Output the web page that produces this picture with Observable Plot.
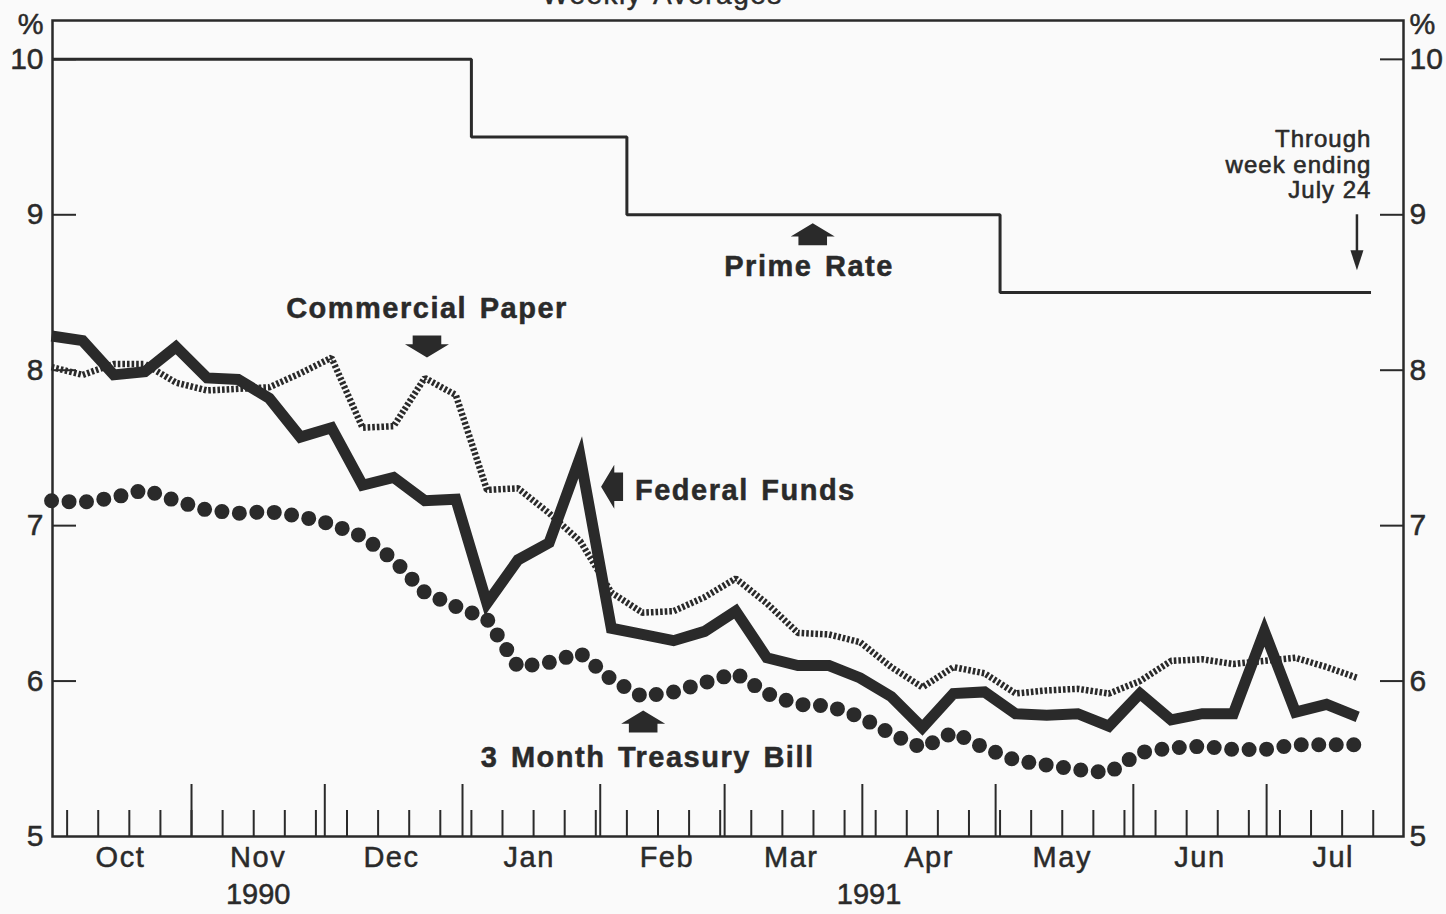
<!DOCTYPE html>
<html>
<head>
<meta charset="utf-8">
<script src="https://cdn.jsdelivr.net/npm/d3@7"></script>
<script src="https://cdn.jsdelivr.net/npm/@observablehq/plot@0.6"></script>
<style>
  html, body { margin: 0; padding: 0; background: #fafafa; }
  #chart { width: 1446px; height: 914px; overflow: hidden; }
</style>
</head>
<body>
<div id="chart"></div>
<script>
// ---- Data (weekly averages, weeks ending Wednesday, Oct 3 1990 – Jul 24 1991) ----
const fedFunds = [8.22, 8.19, 7.97, 7.99, 8.15, 7.95, 7.94, 7.82, 7.57, 7.63, 7.26, 7.31, 7.16, 7.17,
  6.50, 6.78, 6.89, 7.44, 6.34, 6.30, 6.26, 6.32, 6.45, 6.15, 6.10, 6.10, 6.02, 5.90, 5.70,
  5.92, 5.93, 5.79, 5.78, 5.79, 5.71, 5.92, 5.75, 5.79, 5.79, 6.32, 5.80, 5.85, 5.77];
const commercialPaper = [8.02, 7.97, 8.04, 8.04, 7.92, 7.87, 7.88, 7.89, 7.98, 8.08, 7.63, 7.64, 7.95, 7.84,
  7.23, 7.24, 7.08, 6.90, 6.57, 6.44, 6.45, 6.54, 6.66, 6.50, 6.31, 6.30, 6.25, 6.09, 5.96,
  6.09, 6.05, 5.92, 5.94, 5.95, 5.92, 6.00, 6.13, 6.14, 6.11, 6.13, 6.15, 6.09, 6.02];
const treasuryBill = [7.16, 7.15, 7.18, 7.23, 7.16, 7.10, 7.08, 7.09, 7.06, 7.01, 6.93, 6.78, 6.57, 6.48,
  6.40, 6.09, 6.12, 6.18, 6.01, 5.90, 5.93, 5.99, 6.05, 5.92, 5.85, 5.84, 5.77, 5.66, 5.57,
  5.67, 5.57, 5.49, 5.46, 5.43, 5.41, 5.54, 5.57, 5.58, 5.56, 5.56, 5.59, 5.59, 5.59];
const primeDates = ["1990-09-30T17:00Z", "1991-01-03T00:00Z", "1991-02-07T00:00Z", "1991-05-02T00:00Z", "1991-07-24T12:00Z"];
const primeRate = [10, 9.5, 9, 8.5, 8.5];

const monthNames = ["Oct", "Nov", "Dec", "Jan", "Feb", "Mar", "Apr", "May", "Jun", "Jul"];
const yearNames = ["1990", "1991"];
const yearDates = ["1990-11-16T00:00Z", "1991-04-02T12:00Z"];
const yTicks = [5, 6, 7, 8, 9, 10];
const yInnerTicks = [6, 7, 8, 9, 10];

// ---- Annotations (data-space anchors) ----
const centeredLabels = [
  {text: "Commercial Paper", date: "1990-12-24T00:00Z", value: 8.394},
  {text: "Prime Rate", date: "1991-03-20T00:00Z", value: 8.665},
  {text: "3 Month Treasury Bill", date: "1991-02-11T16:00Z", value: 5.505}
];
const leftLabels = [
  {text: "Federal Funds", date: "1991-02-08T20:00Z", value: 7.225}
];
const blockArrows = [
  {date: "1990-12-24T00:00Z", value: 8.153, dir: "down"},
  {date: "1991-03-20T20:00Z", value: 8.874, dir: "up"},
  {date: "1991-02-03T16:00Z", value: 7.25, dir: "left"},
  {date: "1991-02-10T16:00Z", value: 5.74, dir: "up"}
];
const throughNote = {text: "Through\nweek ending\nJuly 24", date: "1991-07-24T14:00Z", value: 9.55};
const throughArrow = {date: "1991-07-21T08:00Z", from: 9.0, to: 8.707};
const titleText = {text: "Weekly Averages", date: "1991-02-15T00:00Z"};

// ---- Layout ----
const ink = "#2a2a2a";
const W = 1446, H = 914, mL = 52, mR = 43, mT = 20, mB = 78;
const plotW = W - mL - mR, plotH = H - mT - mB;
const font = "'Liberation Sans', Arial, Helvetica, sans-serif";

const weekEnding = d3.utcWednesday.range(new Date(Date.UTC(1990, 9, 3)), new Date(Date.UTC(1991, 6, 25)));
const rows = weekEnding.map((d, i) => ({
  date: new Date(+d - 2.5 * 864e5), ff: fedFunds[i], cp: commercialPaper[i], tb: treasuryBill[i]
}));
const primeRows = primeDates.map((d, i) => ({date: new Date(d), value: primeRate[i]}));
const weekTicks = d3.utcThursday.range(new Date(Date.UTC(1990, 9, 4)), new Date(Date.UTC(1991, 6, 26)));
const monthTicks = d3.utcMonth.range(new Date(Date.UTC(1990, 10, 1)), new Date(Date.UTC(1991, 7, 1)));
const monthMids = d3.utcMonth.range(new Date(Date.UTC(1990, 9, 1)), new Date(Date.UTC(1991, 7, 1))).map(d => d3.utcDay.offset(d, 15));

function blockArrow(dir) {
  return {
    draw(ctx, size) {
      const r = Math.sqrt(size / Math.PI);
      const pts = [[0, -0.5], [1, 0.1], [0.65, 0.1], [0.65, 0.5], [-0.65, 0.5], [-0.65, 0.1], [-1, 0.1]];
      const t = dir === "down" ? ([x, y]) => [x, -y] : dir === "left" ? ([x, y]) => [y, x] : p => p;
      pts.map(t).forEach(([x, y], i) => i ? ctx.lineTo(x * r, y * r) : ctx.moveTo(x * r, y * r));
      ctx.closePath();
    }
  };
}
const headDown = {
  draw(ctx, size) {
    const r = Math.sqrt(size / Math.PI);
    ctx.moveTo(0, r); ctx.lineTo(0.65 * r, -r); ctx.lineTo(-0.65 * r, -r); ctx.closePath();
  }
};

const arrowMarks = ["up", "down", "left"].map(dir =>
  Plot.dot(blockArrows.filter(d => d.dir === dir), {
    x: d => new Date(d.date), y: "value", r: 22, symbol: blockArrow(dir), fill: ink, stroke: "none"
  })
);
const thin = {stroke: ink, strokeWidth: 0.5};

const chart = Plot.plot({
  width: W, height: H,
  marginLeft: mL, marginRight: mR, marginTop: mT, marginBottom: mB,
  x: {type: "utc", domain: [new Date("1990-09-30T17:00Z"), new Date("1991-07-31T19:30Z")], axis: null},
  y: {domain: [5, 10.25], axis: null},
  style: {background: "transparent", fontFamily: font, fontSize: "29px", color: ink, overflow: "visible"},
  marks: [
    // inner ticks
    Plot.tickY(yInnerTicks, {y: d => d, stroke: ink, strokeWidth: 2, insetRight: plotW - 24}),
    Plot.tickY(yInnerTicks, {y: d => d, stroke: ink, strokeWidth: 2, insetLeft: plotW - 23}),
    Plot.tickX(weekTicks, {x: d => d, stroke: ink, strokeWidth: 2, insetTop: plotH - 26}),
    Plot.tickX(monthTicks, {x: d => d, stroke: ink, strokeWidth: 2, insetTop: plotH - 52}),
    Plot.frame({stroke: ink, strokeWidth: 2.5}),
    // y labels
    Plot.text(yTicks, {y: d => d, text: d => String(d), frameAnchor: "left", textAnchor: "end", dx: -9, fill: ink, fontSize: 30, ...thin}),
    Plot.text(yTicks, {y: d => d, text: d => String(d), frameAnchor: "right", textAnchor: "start", dx: 6, fill: ink, fontSize: 30, ...thin}),
    Plot.text(["%"], {text: d => d, frameAnchor: "top-left", textAnchor: "end", dx: -9, lineAnchor: "bottom", dy: 13, fill: ink, fontSize: 29, ...thin}),
    Plot.text(["%"], {text: d => d, frameAnchor: "top-right", textAnchor: "start", dx: 6, lineAnchor: "bottom", dy: 13, fill: ink, fontSize: 29, ...thin}),
    // month & year labels
    Plot.text(monthNames, {x: (d, i) => monthMids[i], text: d => d, frameAnchor: "bottom", lineAnchor: "top", dy: 10, fill: ink, fontSize: 29, ...thin}),
    Plot.text(yearNames, {x: (d, i) => new Date(yearDates[i]), text: d => d, frameAnchor: "bottom", lineAnchor: "top", dy: 47, fill: ink, fontSize: 29, ...thin}),
    // series
    Plot.line(primeRows, {x: "date", y: "value", curve: "step-after", stroke: ink, strokeWidth: 3, strokeLinejoin: "miter", strokeLinecap: "butt"}),
    Plot.line(rows, {x: "date", y: "cp", stroke: ink, strokeWidth: 6.5, strokeDasharray: "2.6 2", strokeLinecap: "butt", strokeLinejoin: "miter"}),
    Plot.line(rows, {x: "date", y: "ff", stroke: ink, strokeWidth: 11, strokeLinejoin: "miter", strokeMiterlimit: 10, strokeLinecap: "butt"}),
    Plot.line(rows, {x: "date", y: "tb", stroke: ink, strokeWidth: 15, strokeDasharray: "0 17.5", strokeLinecap: "round"}),
    // labels
    Plot.text(centeredLabels, {x: d => new Date(d.date), y: "value", text: "text", textAnchor: "middle", lineAnchor: "middle",
      fontWeight: "bold", fontSize: 29, fill: ink, ...thin}),
    Plot.text(leftLabels, {x: d => new Date(d.date), y: "value", text: "text", textAnchor: "start", lineAnchor: "middle",
      fontWeight: "bold", fontSize: 29, fill: ink, ...thin}),
    ...arrowMarks,
    Plot.text([throughNote], {x: d => new Date(d.date), y: "value", text: "text", textAnchor: "end", lineAnchor: "top",
      lineHeight: 1.06, fontSize: 24, fill: ink, stroke: ink, strokeWidth: 0.6}),
    Plot.ruleX([throughArrow], {x: d => new Date(d.date), y1: "from", y2: "to", stroke: ink, strokeWidth: 2.5}),
    Plot.dot([throughArrow], {x: d => new Date(d.date), y: d => d.to, r: 10, symbol: headDown, fill: ink, stroke: "none"}),
    Plot.text([titleText], {x: d => new Date(d.date), text: "text", frameAnchor: "top", lineAnchor: "bottom", dy: -17, fontSize: 28, fill: ink, ...thin})
  ]
});

const tracked = new Set([...monthNames, ...centeredLabels.map(d => d.text), ...leftLabels.map(d => d.text), titleText.text]);
d3.select(chart).selectAll("text").each(function () {
  if (tracked.has(this.textContent)) {
    this.style.letterSpacing = "1.5px";
    this.style.wordSpacing = "3px";
  } else if (this.querySelector("tspan")) {
    this.style.letterSpacing = "1px";
  }
});
document.getElementById("chart").appendChild(chart);
</script>
</body>
</html>
